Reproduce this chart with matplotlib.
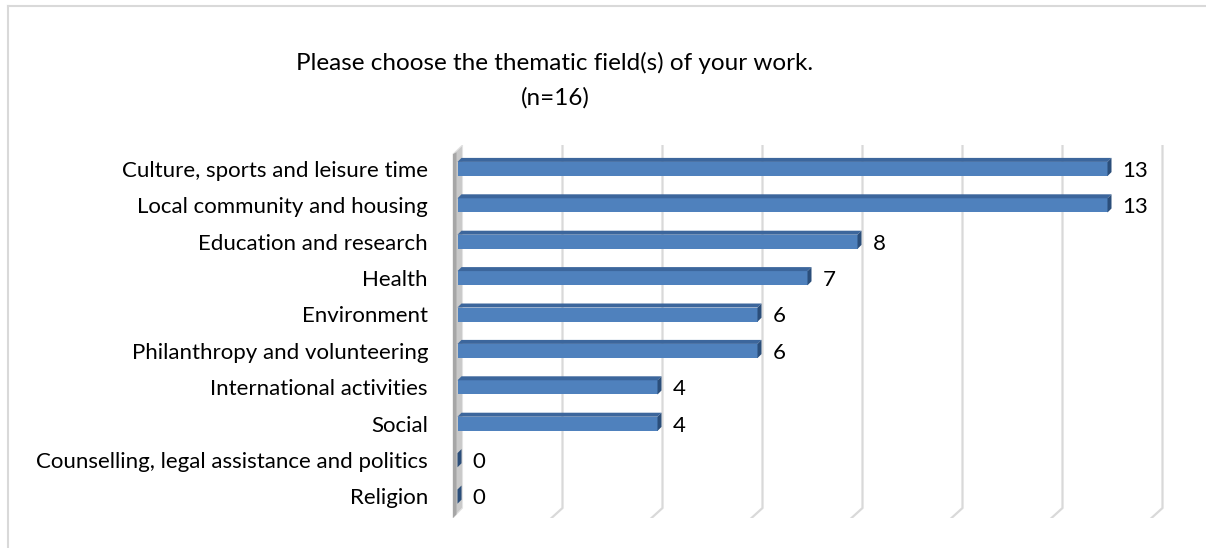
import matplotlib
matplotlib.use("Agg")
import matplotlib.pyplot as plt
from matplotlib.patches import Polygon

# data, top to bottom
categories = ["Culture, sports and leisure time", "Local community and housing",
              "Education and research", "Health", "Environment",
              "Philanthropy and volunteering", "International activities", "Social",
              "Counselling, legal assistance and politics", "Religion"]
counts = [13, 13, 8, 7, 6, 6, 4, 4, 0, 0]
xticks = [0, 2, 4, 6, 8, 10, 12, 14]
title = "Please choose the thematic field(s) of your work.\n(n=16)"

plt.rcParams['font.family'] = ['Lato', 'DejaVu Sans']

W, H = 1206, 548
fig = plt.figure(figsize=(W/100, H/100), dpi=100)

# pixel geometry of the plot frame (front plane of the bars)
x0_px, px_per_unit = 457.5, 50.0
top_px, floor_px = 145, 518
c0_px, c_step = 169.0, 36.4

def px2x(p):
    return (p - x0_px)/px_per_unit

def px2c(p):
    return (p - c0_px)/c_step

xmin, xmax = px2x(440), px2x(1190)
ax = fig.add_axes([440/W, 1 - floor_px/H, 750/W, (floor_px - top_px)/H])
ax.set_xlim(xmin, xmax)
ax.set_ylim(px2c(floor_px), px2c(top_px))
ax.axis('off')

grid_col = '#d9d9d9'
back_dx = 0.1                       # back plane shift (units)
floor_dx = px2x(552) - px2x(563)    # floor diagonal
c_back_bot = px2c(508)
c_top = px2c(top_px)
c_floor = px2c(floor_px)

# gridlines on back wall + floor diagonals
for t in xticks[1:]:
    ax.plot([t + back_dx, t + back_dx, t + back_dx + floor_dx],
            [c_top, c_back_bot, c_floor], color=grid_col, lw=1.6,
            solid_joinstyle='miter', zorder=1)

# left side wall
wall_front = px2x(453)
ax.add_patch(Polygon([(wall_front, c_floor), (back_dx, c_back_bot),
                      (back_dx, c_top), (wall_front, c_top + 0.25)],
                     closed=True, facecolor='#c9c9c9', edgecolor='#e3e3e3',
                     lw=0.8, zorder=1))
ax.add_patch(Polygon([(wall_front, c_floor), (wall_front + 0.07, c_floor - 0.1),
                      (wall_front + 0.07, c_top + 0.2), (wall_front, c_top + 0.25)],
                     closed=True, facecolor='#a6a6a6', edgecolor='none', zorder=1))

# bars with a little 3-D top and side
ypos = list(range(len(categories)))
h = 0.39
d_x, d_c = 4/px_per_unit, 4/c_step
ax.barh(ypos, counts, height=h, left=0, color='#4f81bd', zorder=3)
for y, v in zip(ypos, counts):
    top = y - h/2
    ax.add_patch(Polygon([(0, top), (v, top), (v + d_x, top - d_c), (d_x, top - d_c)],
                         closed=True, facecolor='#3c669c', edgecolor='none', zorder=3))
    ax.add_patch(Polygon([(v, top), (v + d_x, top - d_c), (v + d_x, y + h/2 - d_c), (v, y + h/2)],
                         closed=True, facecolor='#2b4e7a', edgecolor='none', zorder=3))
    ax.text(v + 0.3, y + 0.05, str(v), va='center', ha='left', fontsize=16, color='#000000', zorder=4)
    ax.text(px2x(428), y + 0.05, categories[y], va='center', ha='right', fontsize=16,
            color='#000000', clip_on=False)

fig.text(555/W, 1 - 80/H, title, ha='center', va='center', fontsize=17.5,
         color='#000000', linespacing=1.75)

# chart area border (left and top)
fig.add_artist(plt.Line2D([7.5/W, 7.5/W], [0, 1 - 6/H], color='#d9d9d9', lw=1.5))
fig.add_artist(plt.Line2D([7.5/W, 1], [1 - 6/H, 1 - 6/H], color='#d9d9d9', lw=1.5))

fig.savefig("out.png", dpi=100, facecolor='white')
